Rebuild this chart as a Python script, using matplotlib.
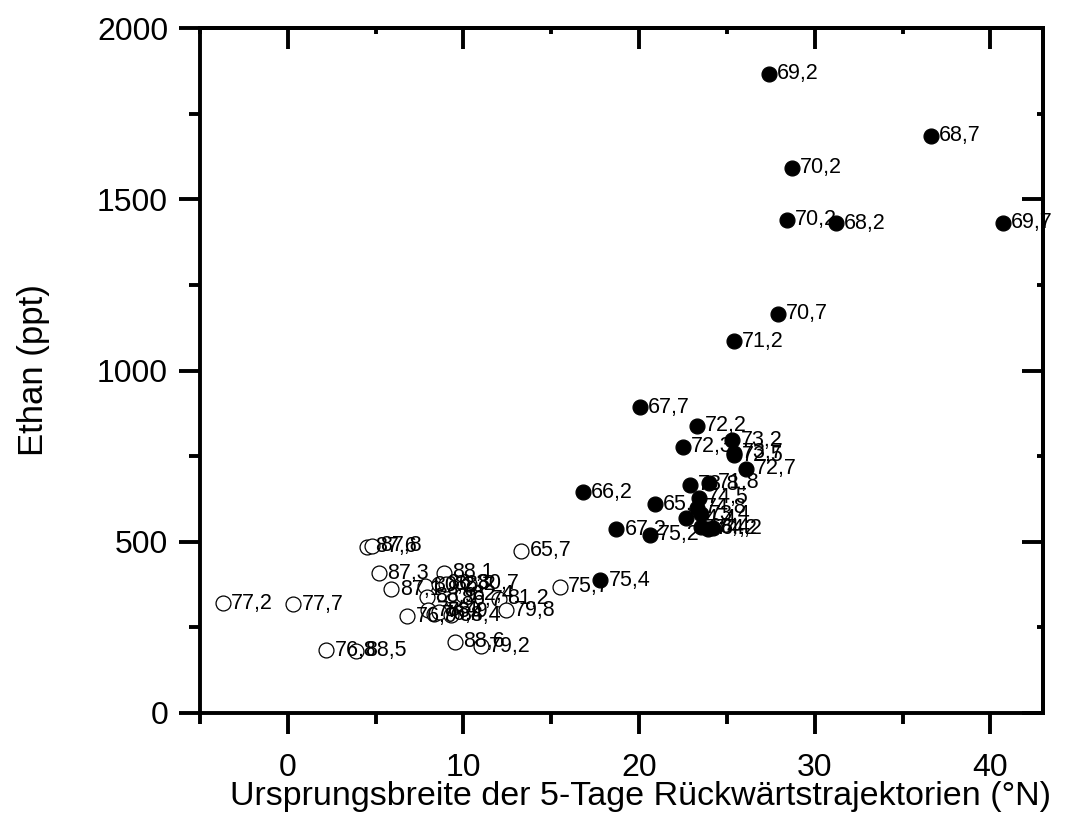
import matplotlib
matplotlib.use("Agg")
import matplotlib.pyplot as plt
from matplotlib.ticker import MultipleLocator

plt.rcParams['font.family'] = ['Liberation Sans', 'DejaVu Sans']

# Filled points (high-latitude origin)
filled_x = [27.4, 36.6, 28.7, 28.4, 31.2, 40.7, 27.9, 25.4, 20.05, 23.3, 22.5, 25.3,
            25.4, 25.4, 26.1, 22.9, 24.0, 20.9, 23.4, 23.3, 23.5, 22.7, 23.5, 23.9,
            24.2, 16.8, 18.7, 20.6, 17.8]
filled_y = [1866, 1685, 1592, 1440, 1430, 1432, 1166, 1086, 893, 838, 778, 797,
            753, 760, 713, 666, 672, 610, 628, 600, 580, 568, 542, 538,
            540, 645, 537, 520, 388]
filled_lab = ["69,2", "68,7", "70,2", "70,2", "68,2", "69,7", "70,7", "71,2", "67,7",
              "72,2", "72,3", "73,2", "72,5", "73,7", "72,7", "73,8", "71,8", "65,2",
              "74,5", "74,8", "73,4", "74,4", "68,4", "74,2", "64,2", "66,2", "67,2",
              "75,2", "75,4"]

# Open points
open_x = [-3.7, 0.3, 2.2, 3.9, 4.5, 4.8, 5.2, 5.9, 6.8, 7.8, 7.9, 8.0, 8.3, 8.6,
          8.6, 8.9, 9.0, 9.3, 9.4, 9.5, 10.0, 10.3, 11.0, 12.0, 12.4, 13.3, 15.5]
open_y = [321, 318, 183, 182, 486, 488, 408, 362, 283, 372, 340, 300, 288, 378,
          295, 410, 376, 285, 330, 208, 345, 378, 195, 333, 300, 473, 369]
open_lab = ["77,2", "77,7", "76,8", "88,5", "87,6", "87,8", "87,3", "87,1", "76,9",
            "80,2", "88,9", "78,4", "76,4", "86,3", "78,9", "88,1", "88,2", "88,4",
            "86,7", "88,6", "82,4", "80,7", "79,2", "81,2", "79,8", "65,7", "75,7"]

x_label = "Ursprungsbreite der 5-Tage Rückwärtstrajektorien (°N)"
y_label = "Ethan (ppt)"

fig = plt.figure(figsize=(10.73, 8.21), dpi=100)
ax = fig.add_axes([200/1073, 1-713/821, (1043-200)/1073, (713-28)/821])

ax.scatter(open_x, open_y, s=115, facecolors='white', edgecolors='black',
           linewidths=0.9, zorder=3)
ax.scatter(filled_x, filled_y, s=115, facecolors='black', edgecolors='black',
           linewidths=0.9, zorder=4)

for x, y, t in zip(open_x, open_y, open_lab):
    ax.annotate(t, (x, y), xytext=(6, 0), textcoords='offset points',
                ha='left', va='center', fontsize=15.5, zorder=5)
for x, y, t in zip(filled_x, filled_y, filled_lab):
    ax.annotate(t, (x, y), xytext=(6, 0), textcoords='offset points',
                ha='left', va='center', fontsize=15.5, zorder=5)

ax.set_xlim(-5, 43)
ax.set_ylim(0, 2000)
ax.xaxis.set_major_locator(MultipleLocator(10))
ax.xaxis.set_minor_locator(MultipleLocator(5))
ax.yaxis.set_major_locator(MultipleLocator(500))
ax.yaxis.set_minor_locator(MultipleLocator(250))

for sp in ax.spines.values():
    sp.set_linewidth(2.8)

ax.tick_params(which='major', direction='out', length=15, width=2.8,
               labelsize=23, top=False, right=False)
ax.tick_params(axis='x', which='major', pad=14)
ax.tick_params(axis='y', which='major', pad=8)
ax.tick_params(which='minor', direction='out', length=8, width=2.8,
               top=False, right=False)

sx = ax.secondary_xaxis('top')
sx.xaxis.set_major_locator(MultipleLocator(10))
sx.xaxis.set_minor_locator(MultipleLocator(5))
sx.tick_params(which='major', direction='in', length=15, width=2.8, labeltop=False)
sx.tick_params(which='minor', direction='in', length=4, width=2.8)
sx.spines['top'].set_linewidth(2.8)

sy = ax.secondary_yaxis('right')
sy.yaxis.set_major_locator(MultipleLocator(500))
sy.yaxis.set_minor_locator(MultipleLocator(250))
sy.tick_params(which='major', direction='in', length=15, width=2.8, labelright=False)
sy.tick_params(which='minor', direction='in', length=4, width=2.8)
sy.spines['right'].set_linewidth(2.8)

ax.set_xlabel(x_label, fontsize=24.5)
ax.xaxis.set_label_coords((640 - 200) / 843, -(797 - 713) / 685, transform=ax.transAxes)
ax.xaxis.label.set_va('center')
ax.set_ylabel(y_label, fontsize=25)
ax.yaxis.set_label_coords((33 - 200) / 843, 0.5, transform=ax.transAxes)
ax.yaxis.label.set_va('center')

fig.savefig("out.png", dpi=100)
